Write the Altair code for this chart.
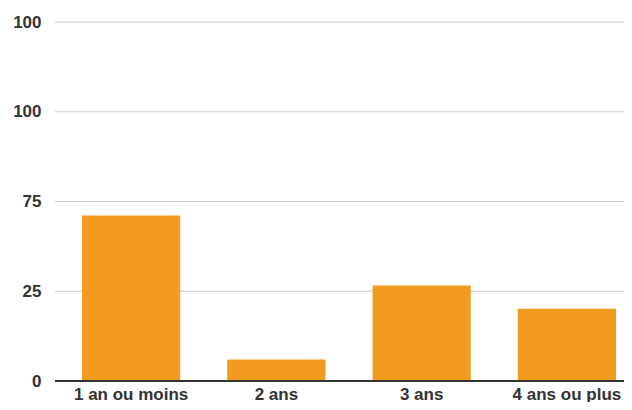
import altair as alt
import pandas as pd

categories = ["1 an ou moins", "2 ans", "3 ans", "4 ans ou plus"]
values = [46.1, 6.0, 26.6, 20.1]
tick_values = [0, 25, 50, 75, 100]
tick_labels = ["0", "25", "75", "100", "100"]

df = pd.DataFrame({"cat": categories, "val": values})
grid_df = pd.DataFrame({"t": tick_values})

label_map = "{" + ",".join(f"'{v}':'{l}'" for v, l in zip(tick_values, tick_labels)) + "}"

W = 581
H = 359

y_scale = alt.Scale(domain=[0, 100], nice=False)

grid = alt.Chart(grid_df).mark_rule(color="#cccccc", strokeWidth=1).encode(
    y=alt.Y("t:Q", scale=y_scale, title=None,
            axis=alt.Axis(values=tick_values, labelExpr=f"{label_map}[datum.value]",
                          labelFontSize=17, labelFontWeight="bold", labelColor="#333333",
                          labelFont="Liberation Sans", domain=False, ticks=False,
                          labelPadding=2, grid=False)),
    x=alt.value(12),
    x2=alt.value(W),
)

bars = alt.Chart(df).mark_bar(color="#F19C20").encode(
    x=alt.X("cat:N", sort=categories, title=None,
            scale=alt.Scale(range=[39, 573], paddingInner=0.324, paddingOuter=0),
            axis=alt.Axis(labelAngle=0, labelFontSize=17, labelFontWeight="bold",
                          labelColor="#333333", labelFont="Liberation Sans",
                          domain=False, ticks=False,
                          labelPadding=5, grid=False)),
    y=alt.Y("val:Q", scale=y_scale, title=None),
)

baseline = alt.Chart(grid_df).mark_rule(color="#333333", strokeWidth=2).encode(
    x=alt.value(12), x2=alt.value(W), y=alt.value(H)
)

chart = alt.layer(grid, bars, baseline).properties(
    width=W, height=H,
    autosize=alt.AutoSizeParams(type="none"),
    padding={"left": 35, "top": 14, "right": 0, "bottom": 21},
).configure_view(stroke=None)

chart.save("out.html", embed_options={"renderer": "svg", "actions": False})
